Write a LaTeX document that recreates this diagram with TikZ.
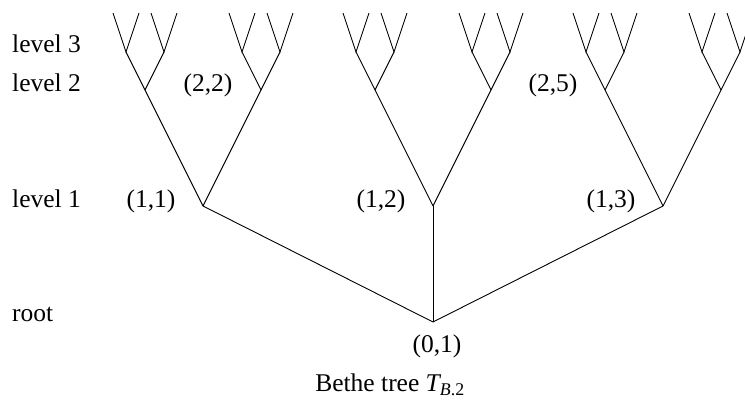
\documentclass[tikz,border=0pt]{standalone}
\usepackage{fontspec}
\setmainfont{Liberation Serif}
\begin{document}
\begin{tikzpicture}[x=1pt,y=-1pt,
  edge/.style={line width=0.9pt, line join=miter},
  lbl/.style={anchor=base, inner sep=0pt, font=\fontsize{25.5}{30}\selectfont}]
\useasboundingbox (0,0) rectangle (745,403);

% root and three-level binary branching above each first-level vertex
\coordinate (r) at (433,322);
\foreach \i in {1,2,3} {
  \pgfmathsetmacro\xa{203+230*(\i-1)}
  \coordinate (a\i) at (\xa,206);
  \draw[edge] (r) -- (a\i);
  \foreach \j/\s in {1/-1,2/1} {
    \pgfmathsetmacro\xb{\xa+58*\s}
    \coordinate (b\i\j) at (\xb,90);
    \draw[edge] (a\i) -- (b\i\j);
    \foreach \k/\t in {1/-1,2/1} {
      \pgfmathsetmacro\xc{\xb+19*\t}
      \coordinate (c\i\j\k) at (\xc,52);
      \coordinate (d\i\j\k1) at (\xc-13,13);
      \coordinate (d\i\j\k2) at (\xc+13,13);
      \draw[edge] (b\i\j) -- (c\i\j\k);
      \draw[edge] (d\i\j\k1) -- (c\i\j\k) -- (d\i\j\k2);
    }
  }
}

% level captions
\node[lbl, anchor=base west] (lv3) at (12,53) {level 3};
\node[lbl, anchor=base west] (lv2) at (12,92) {level 2};
\node[lbl, anchor=base west] (lv1) at (12,208) {level 1};
\node[lbl, anchor=base west] (lv0) at (12,322) {root};

% vertex labels
\node[lbl] (l11) at (151,208) {(1,1)};
\node[lbl] (l12) at (381,208) {(1,2)};
\node[lbl] (l13) at (611,208) {(1,3)};
\node[lbl] (l22) at (208,92) {(2,2)};
\node[lbl] (l25) at (553,92) {(2,5)};
\node[lbl] (l01) at (437,353) {(0,1)};

% caption
\node[lbl] (cap) at (390,392) {Bethe tree {\itshape T}\textsubscript{{\itshape B}.2}};
\end{tikzpicture}
\end{document}
